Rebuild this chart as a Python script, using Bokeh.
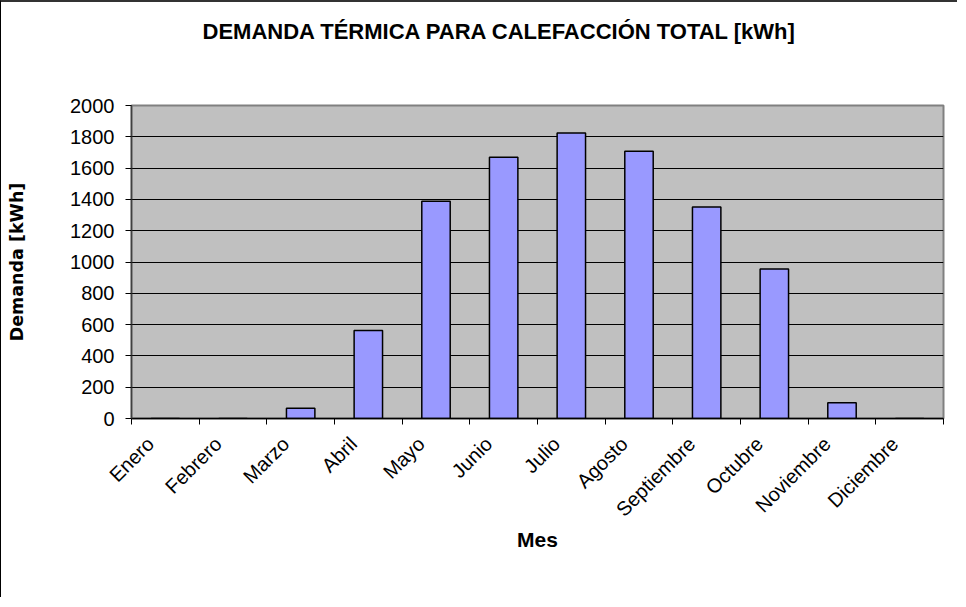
from bokeh.plotting import figure
from bokeh.models import FixedTicker, Range1d
from bokeh.embed import file_html
from bokeh.resources import INLINE
import math

months = ["Enero", "Febrero", "Marzo", "Abril", "Mayo", "Junio", "Julio",
          "Agosto", "Septiembre", "Octubre", "Noviembre", "Diciembre"]
demand = [0, 0, 65, 562, 1388, 1670, 1824, 1707, 1352, 955, 100, 0]
y_ticks = [0, 200, 400, 600, 800, 1000, 1200, 1400, 1600, 1800, 2000]
title_text = "DEMANDA TÉRMICA PARA CALEFACCIÓN TOTAL [kWh]"

n = len(months)
centers = [i + 0.5 for i in range(n)]
bounds = [float(i) for i in range(n + 1)]
label_shift = 0.22  # rotated labels sit slightly left of the bar centres
label_pos = [c - label_shift for c in centers]

FONT = "Liberation Sans"

p = figure(width=957, height=597, x_range=Range1d(0, n), y_range=Range1d(0, 2000),
           output_backend="svg", toolbar_location=None,
           min_border_left=130, min_border_right=15,
           min_border_top=103, min_border_bottom=181)
p.styles = {"border-left": "1px solid #000", "border-top": "2px solid #333"}

p.background_fill_color = "#C0C0C0"
p.border_fill_color = "white"
p.outline_line_color = "#808080"
p.outline_line_width = 2

p.vbar(x=centers, top=demand, width=0.42, bottom=0,
       fill_color="#9999FF", line_color="black", line_width=1.5)

# title (two empty trailing lines lift it above the plot area)
p.title.text = title_text + "\n\n"
p.title.align = "left"
p.title.offset = 71
p.title.vertical_align = "bottom"
p.title.standoff = 24
p.title.text_font = FONT
p.title.text_font_size = "22px"
p.title.text_font_style = "bold"
p.title.text_color = "black"

yt = FixedTicker(ticks=y_ticks)
p.yaxis.ticker = yt
p.ygrid.ticker = yt
p.ygrid.grid_line_color = "black"
p.ygrid.grid_line_width = 1
p.xgrid.visible = False

p.yaxis.axis_label = "Demanda [kWh]"
p.yaxis.axis_label_text_font = "DejaVu Sans"
p.yaxis.axis_label_text_font_size = "17.5px"
p.yaxis.axis_label_text_font_style = "bold"
p.yaxis.axis_label_text_color = "black"
p.yaxis.axis_label_standoff = 40
p.yaxis.major_label_text_font = FONT
p.yaxis.major_label_text_font_size = "20px"
p.yaxis.major_label_text_color = "black"
p.yaxis.major_label_standoff = 11
p.yaxis.axis_line_color = "#404040"
p.yaxis.axis_line_width = 1.5
p.yaxis.major_tick_line_color = "black"
p.yaxis.major_tick_out = 6
p.yaxis.major_tick_in = 0
p.yaxis.minor_tick_line_color = None

p.xaxis.ticker = FixedTicker(ticks=label_pos, minor_ticks=bounds)
p.xaxis.major_label_overrides = {c: m for c, m in zip(label_pos, months)}
p.xaxis.major_label_orientation = math.pi / 4
p.xaxis.major_label_text_font = FONT
p.xaxis.major_label_text_font_size = "20px"
p.xaxis.major_label_text_color = "black"
p.xaxis.major_label_standoff = 16
p.xaxis.major_tick_line_color = None
p.xaxis.major_tick_out = 0
p.xaxis.major_tick_in = 0
p.xaxis.minor_tick_line_color = "black"
p.xaxis.minor_tick_out = 6
p.xaxis.minor_tick_in = 0
p.xaxis.axis_line_color = "black"
p.xaxis.axis_line_width = 1.5
p.xaxis.axis_label = "Mes"
p.xaxis.axis_label_text_font = FONT
p.xaxis.axis_label_text_font_size = "21px"
p.xaxis.axis_label_text_font_style = "bold"
p.xaxis.axis_label_text_color = "black"
p.xaxis.axis_label_standoff = -3

open("out.html", "w").write(file_html(p, INLINE))
